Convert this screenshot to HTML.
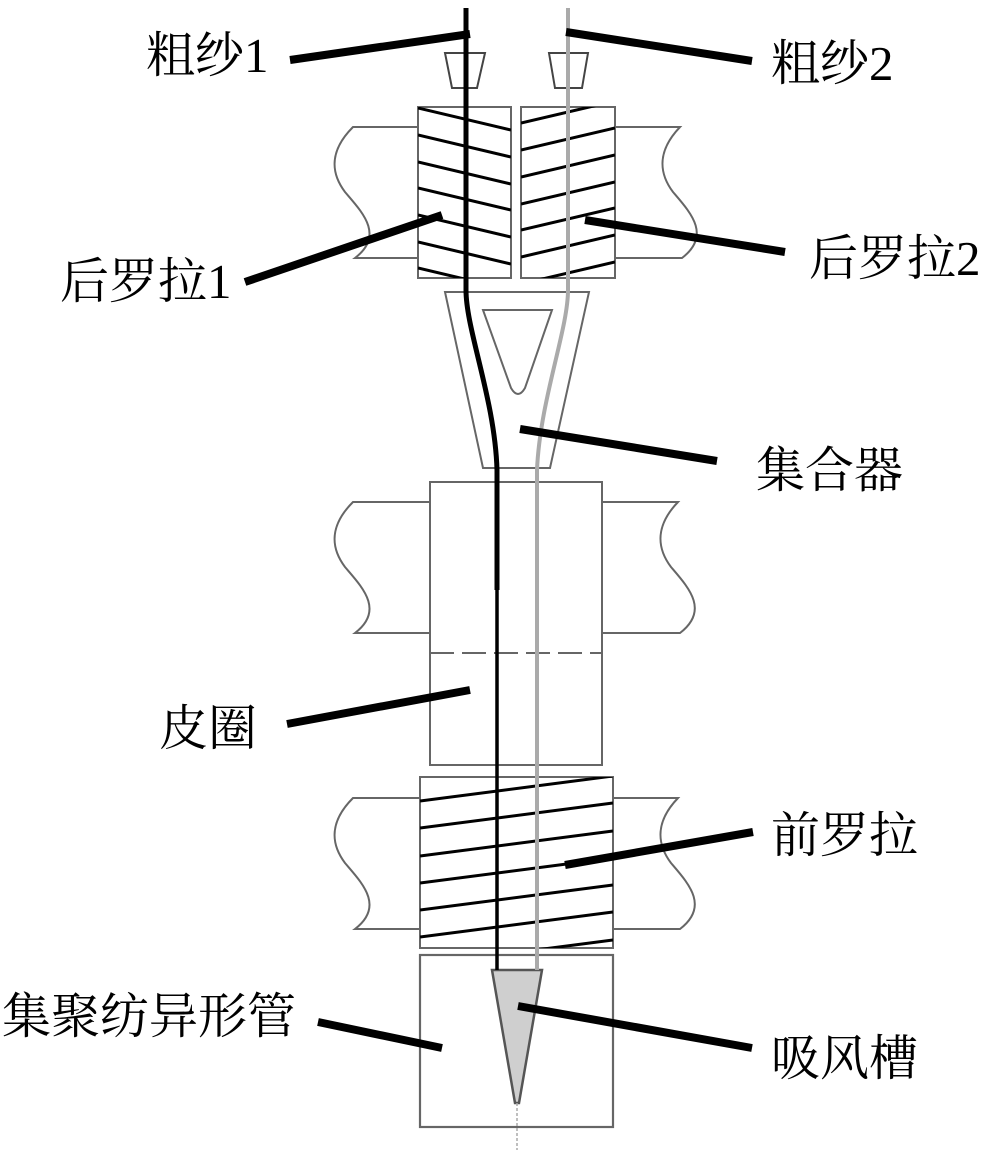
<!DOCTYPE html>
<html><head><meta charset="utf-8"><style>
html,body{margin:0;padding:0;background:#fff;}
svg{display:block}
text{font-family:"Liberation Serif","Noto Serif CJK SC",serif;font-size:49px;fill:#000}
</style></head><body>
<svg width="1000" height="1160" viewBox="0 0 1000 1160" xmlns="http://www.w3.org/2000/svg">
<defs>
<clipPath id="cb1"><rect x="418" y="107" width="93" height="171"/></clipPath>
<clipPath id="cb2"><rect x="521" y="107" width="94" height="171"/></clipPath>
<clipPath id="cf"><rect x="420" y="777" width="193" height="171"/></clipPath>
</defs>
<g fill="none" stroke="#666" stroke-width="2">
<path d="M418,127 L353,127 C330,150 330,172 345,192 C362,212 385,235 355,258 L418,258"/>
<path d="M615,127 L680,127 C658,150 658,172 673,192 C690,212 712,235 682,258 L615,258"/>
<rect x="418" y="107" width="93" height="171"/>
<rect x="521" y="107" width="94" height="171"/>
<path d="M445,53 L485,53 L477,88 L452,88 Z" stroke="#444"/>
<path d="M549,53 L588,53 L582,88 L555,88 Z" stroke="#444"/>
<path d="M445,292 L589,292 L550,468 L483,468 Z"/>
<path d="M483,310 L552,310 L525,388 Q518,400 511,388 Z"/>
<path d="M430,502 L353,502 C330,525 330,547 345,567 C362,587 385,610 355,633 L430,633"/>
<path d="M602,502 L678,502 C656,525 656,547 671,567 C688,587 710,610 680,633 L602,633"/>
<rect x="430" y="482" width="172" height="283"/>
<line x1="430" y1="653" x2="602" y2="653" stroke-dasharray="24,8"/>
<path d="M420,798 L353,798 C330,821 330,843 345,863 C362,883 385,906 355,929 L420,929"/>
<path d="M613,798 L678,798 C656,821 656,843 671,863 C688,883 710,906 680,929 L613,929"/>
<rect x="420" y="777" width="193" height="171"/>
<rect x="420" y="955" width="193" height="172" stroke-width="2.2"/>
</g>
<g stroke="#000" stroke-width="3" clip-path="url(#cb1)">
<line x1="418" y1="81" x2="511" y2="103"/>
<line x1="418" y1="108" x2="511" y2="130"/>
<line x1="418" y1="135" x2="511" y2="157"/>
<line x1="418" y1="162" x2="511" y2="184"/>
<line x1="418" y1="188" x2="511" y2="210"/>
<line x1="418" y1="215" x2="511" y2="237"/>
<line x1="418" y1="242" x2="511" y2="264"/>
<line x1="418" y1="268" x2="511" y2="290"/>
</g>
<g stroke="#000" stroke-width="3" clip-path="url(#cb2)">
<line x1="615" y1="101" x2="521" y2="123"/>
<line x1="615" y1="128" x2="521" y2="150"/>
<line x1="615" y1="155" x2="521" y2="177"/>
<line x1="615" y1="182" x2="521" y2="204"/>
<line x1="615" y1="208" x2="521" y2="230"/>
<line x1="615" y1="235" x2="521" y2="257"/>
<line x1="615" y1="262" x2="521" y2="284"/>
</g>
<g stroke="#000" stroke-width="3" clip-path="url(#cf)">
<line x1="420" y1="801" x2="613" y2="776"/>
<line x1="420" y1="828" x2="613" y2="803"/>
<line x1="420" y1="856" x2="613" y2="831"/>
<line x1="420" y1="883" x2="613" y2="858"/>
<line x1="420" y1="910" x2="613" y2="885"/>
<line x1="420" y1="937" x2="613" y2="912"/>
<line x1="420" y1="965" x2="613" y2="940"/>
<line x1="420" y1="992" x2="613" y2="967"/>
</g>
<path d="M492,970 L542,970 L519,1103 L515,1103 Z" fill="#cfcfcf" stroke="#555" stroke-width="2.5"/>
<line x1="517" y1="1103" x2="517" y2="1150" stroke="#aaa" stroke-width="1.5" stroke-dasharray="3,2"/>
<path d="M568,8 L568,290 C568,330 540,400 537,470 L537,970" fill="none" stroke="#aaa" stroke-width="4"/>
<path d="M466,8 L466,290 C466,330 495,400 497,470 L497,590" fill="none" stroke="#000" stroke-width="5"/>
<path d="M497,590 L497,970" fill="none" stroke="#000" stroke-width="3.5"/>
<g stroke="#000" stroke-width="8" stroke-linecap="butt">
<line x1="290" y1="60" x2="470" y2="34"/>
<line x1="566" y1="32" x2="752" y2="61"/>
<line x1="245" y1="282" x2="442" y2="215"/>
<line x1="585" y1="220" x2="785" y2="252"/>
<line x1="520" y1="429" x2="717" y2="461"/>
<line x1="287" y1="724" x2="470" y2="690"/>
<line x1="565" y1="865" x2="753" y2="832"/>
<line x1="318" y1="1022" x2="442" y2="1048"/>
<line x1="518" y1="1006" x2="752" y2="1048"/>
</g>
<text x="146" y="72">粗纱1</text>
<text x="771" y="80">粗纱2</text>
<text x="60" y="298">后罗拉1</text>
<text x="809" y="275">后罗拉2</text>
<text x="756" y="487">集合器</text>
<text x="159" y="745">皮圈</text>
<text x="771" y="852">前罗拉</text>
<text x="2" y="1033">集聚纺异形管</text>
<text x="771" y="1075">吸风槽</text>
</svg>
</body></html>
